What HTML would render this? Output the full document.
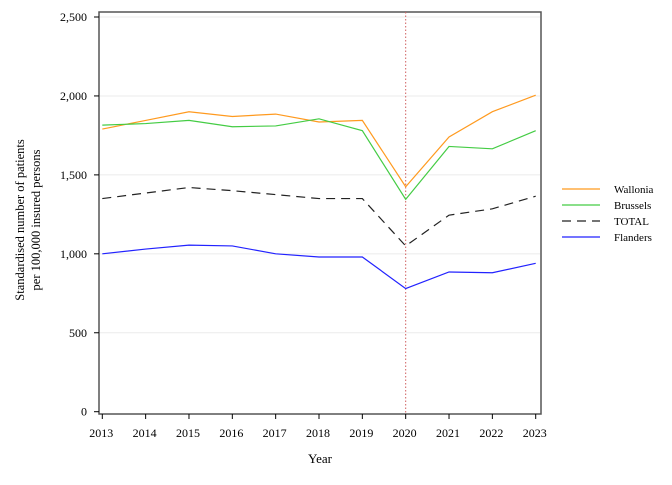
<!DOCTYPE html>
<html><head><meta charset="utf-8"><style>
body{margin:0;background:#fff;font-family:"Liberation Serif",serif;}
svg text{font-family:"Liberation Serif",serif;fill:#000;}
</style></head><body>
<svg id="chart" width="672" height="480">
<rect x="99" y="12" width="442" height="402" fill="#fff" stroke="#555" stroke-width="1.5"/>
<g id="grid"></g><g id="axes"></g><g id="series"></g>
<text x="320" y="463" text-anchor="middle" font-size="13">Year</text>
<text transform="translate(24,220) rotate(-90)" text-anchor="middle" font-size="12.5"><tspan x="0" dy="0">Standardised number of patients</tspan><tspan x="0" dy="16">per 100,000 insured persons</tspan></text>
<g id="legend"></g>
</svg>
<script>
const years=[2013,2014,2015,2016,2017,2018,2019,2020,2021,2022,2023];
const yTicks=[0,500,1000,1500,2000,2500];
const yTickLabels=["0","500","1,000","1,500","2,000","2,500"];
const wallonia=[1790,1845,1900,1870,1885,1835,1845,1425,1740,1900,2005];
const brussels=[1815,1825,1845,1805,1810,1855,1780,1345,1680,1665,1780];
const total=[1350,1385,1420,1400,1375,1350,1350,1050,1245,1285,1365];
const flanders=[1000,1030,1055,1050,1000,980,980,780,885,880,940];
const seriesNames=["Wallonia","Brussels","TOTAL","Flanders"];
const covidYear=2020;
const NS="http://www.w3.org/2000/svg";
const xS=y=>102.3+(y-2013)*43.34;
const yS=v=>411.7-v*394.7/2500;
function mk(tag,attrs,parent){const e=document.createElementNS(NS,tag);for(const k in attrs)e.setAttribute(k,attrs[k]);document.getElementById(parent).appendChild(e);return e;}
yTicks.forEach((t,i)=>{
 if(t>0){const g=mk('line',{x1:100,x2:540,y1:yS(t),y2:yS(t),stroke:'#ebebeb'},'grid');
 
 }
 const tk=mk('line',{x1:94,x2:99,y1:yS(t),y2:yS(t),stroke:'#000'},'axes');
 
 
 const tx=mk('text',{x:87,y:yS(t)+4,'text-anchor':'end','font-size':12},'axes');
 tx.textContent=yTickLabels[i];
 
 
});
years.forEach(y=>{
 const tk=mk('line',{x1:xS(y),x2:xS(y),y1:414,y2:419,stroke:'#000'},'axes');
 
 
 const tx=mk('text',{x:xS(y)-1,y:437,'text-anchor':'middle','font-size':12},'axes');
 tx.textContent=y;
 
 
});
const ref=mk('line',{x1:xS(covidYear),x2:xS(covidYear),y1:12,y2:414,stroke:'#d06060','stroke-dasharray':'1.5,2'},'series');


const defs=[[wallonia,'#ff9a1f',null],[brussels,'#44cc44',null],[total,'#222','9,6'],[flanders,'#2222ff',null]];
defs.forEach((d,i)=>{
 const pts=d[0].map((v,j)=>xS(years[j])+','+yS(v)).join(' ');
 const a={points:pts,fill:'none',stroke:d[1],'stroke-width':1.2};
 if(d[2])a['stroke-dasharray']=d[2];
 const p=mk('polyline',a,'series');
 
 
 const ly=189+i*16;
 const la={x1:562,x2:600,y1:ly,y2:ly,stroke:d[1],'stroke-width':1.2};
 if(d[2])la['stroke-dasharray']='9,6';
 const l=mk('line',la,'legend');
 
 
 const t=mk('text',{x:614,y:ly+4,'font-size':11},'legend');
 t.textContent=seriesNames[i];
 
 
});
</script>
</body></html>
